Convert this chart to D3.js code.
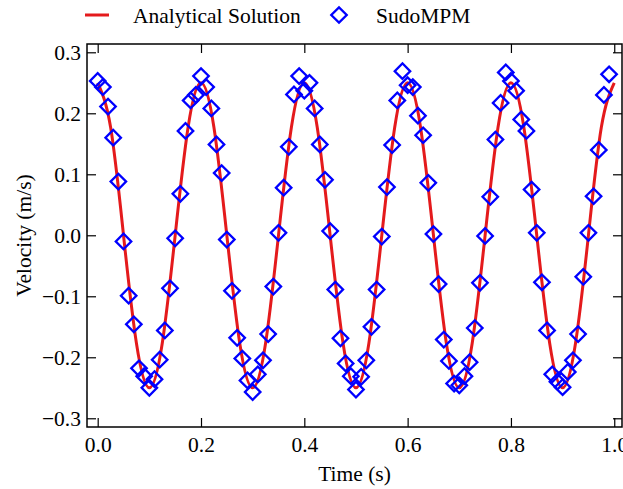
<!DOCTYPE html>
<html>
<head>
<meta charset="utf-8">
<script src="https://cdn.jsdelivr.net/npm/d3@7"></script>
<style>
  body { margin: 0; background: #fff; }
  svg text { font-family: "Liberation Serif", Tinos, "Times New Roman", Times, "DejaVu Serif", serif !important; }
</style>
</head>
<body>
<div id="graph"></div>
<script>
// analytical solution, sampled every 0.025 s
var analyticTime = [0, 0.025, 0.05, 0.075, 0.1, 0.125, 0.15, 0.175, 0.2, 0.225,
    0.25, 0.275, 0.3, 0.325, 0.35, 0.375, 0.4, 0.425, 0.45, 0.475,
    0.5, 0.525, 0.55, 0.575, 0.6, 0.625, 0.65, 0.675, 0.7, 0.725,
    0.75, 0.775, 0.8, 0.825, 0.85, 0.875, 0.9, 0.925, 0.95, 0.975, 1.0];
var analyticVel = [0.25, 0.177, 0, -0.177, -0.25, -0.177, 0, 0.177, 0.25, 0.177,
    0, -0.177, -0.25, -0.177, 0, 0.177, 0.25, 0.177, 0, -0.177,
    -0.25, -0.177, 0, 0.177, 0.25, 0.177, 0, -0.177, -0.25, -0.177,
    0, 0.177, 0.25, 0.177, 0, -0.177, -0.25, -0.177, 0, 0.177, 0.25];

// SudoMPM output, one point every 0.01 s (0 .. 0.99)
var mpmTime = [0, 0.01, 0.02, 0.03, 0.04, 0.05, 0.06, 0.07, 0.08, 0.09,
    0.1, 0.11, 0.12, 0.13, 0.14, 0.15, 0.16, 0.17, 0.18, 0.19,
    0.2, 0.21, 0.22, 0.23, 0.24, 0.25, 0.26, 0.27, 0.28, 0.29,
    0.3, 0.31, 0.32, 0.33, 0.34, 0.35, 0.36, 0.37, 0.38, 0.39,
    0.4, 0.41, 0.42, 0.43, 0.44, 0.45, 0.46, 0.47, 0.48, 0.49,
    0.5, 0.51, 0.52, 0.53, 0.54, 0.55, 0.56, 0.57, 0.58, 0.59,
    0.6, 0.61, 0.62, 0.63, 0.64, 0.65, 0.66, 0.67, 0.68, 0.69,
    0.7, 0.71, 0.72, 0.73, 0.74, 0.75, 0.76, 0.77, 0.78, 0.79,
    0.8, 0.81, 0.82, 0.83, 0.84, 0.85, 0.86, 0.87, 0.88, 0.89,
    0.9, 0.91, 0.92, 0.93, 0.94, 0.95, 0.96, 0.97, 0.98, 0.99];
var mpmVel = [0.253, 0.243, 0.211, 0.160, 0.088, -0.010, -0.099, -0.146, -0.218, -0.231,
    -0.250, -0.236, -0.204, -0.156, -0.087, -0.005, 0.068, 0.171, 0.221, 0.230,
    0.261, 0.243, 0.208, 0.149, 0.102, -0.007, -0.091, -0.168, -0.202, -0.238,
    -0.257, -0.228, -0.205, -0.162, -0.084, 0.004, 0.078, 0.145, 0.231, 0.261,
    0.237, 0.250, 0.208, 0.149, 0.091, 0.007, -0.089, -0.169, -0.210, -0.231,
    -0.253, -0.232, -0.205, -0.150, -0.089, -0.002, 0.079, 0.148, 0.221, 0.269,
    0.246, 0.243, 0.196, 0.164, 0.086, 0.002, -0.080, -0.171, -0.206, -0.243,
    -0.246, -0.231, -0.208, -0.152, -0.078, -0.001, 0.063, 0.157, 0.217, 0.267,
    0.253, 0.237, 0.190, 0.171, 0.075, 0.004, -0.077, -0.156, -0.228, -0.240,
    -0.249, -0.224, -0.205, -0.162, -0.068, 0.004, 0.064, 0.140, 0.230, 0.264];

var xTicks = [0, 0.2, 0.4, 0.6, 0.8, 1.0];
var yTicks = [-0.3, -0.2, -0.1, 0, 0.1, 0.2, 0.3];

var serif = '"Liberation Serif", Tinos, "Times New Roman", Times, "DejaVu Serif", serif';
var fontSize = 21.5;

var width = 623, height = 489,
    margin = {top: 44, right: 1, bottom: 62, left: 87};

var svg = d3.select("#graph").append("svg")
    .attr("width", width)
    .attr("height", height)
    .attr("font-family", serif);

var x = d3.scaleLinear()
    .domain([-0.0207, 1.015])
    .range([margin.left, width - margin.right]);

var y = d3.scaleLinear()
    .domain([-0.3143, 0.3136])
    .range([height - margin.bottom, margin.top]);

var fmt = function(d) { return d3.format(".1f")(d).replace("-", "\u2212"); };

// axes, ticks pointing inward on all four sides
function styleAxis(g) {
    g.attr("font-family", serif);
    g.select(".domain").remove();
    g.selectAll(".tick line").attr("stroke", "#000").attr("stroke-width", 1.2);
    g.selectAll(".tick text").attr("font-size", fontSize).attr("fill", "#000");
}

svg.append("g")
    .attr("transform", "translate(0," + y.range()[0] + ")")
    .call(d3.axisBottom(x).tickValues(xTicks).tickFormat(fmt).tickSizeInner(-9).tickSizeOuter(0).tickPadding(10))
    .call(styleAxis);

svg.append("g")
    .attr("transform", "translate(0," + y.range()[1] + ")")
    .call(d3.axisTop(x).tickValues(xTicks).tickFormat("").tickSizeInner(-9).tickSizeOuter(0))
    .call(styleAxis);

svg.append("g")
    .attr("transform", "translate(" + x.range()[0] + ",0)")
    .call(d3.axisLeft(y).tickValues(yTicks).tickFormat(fmt).tickSizeInner(-9).tickSizeOuter(0).tickPadding(6))
    .call(styleAxis);

svg.append("g")
    .attr("transform", "translate(" + x.range()[1] + ",0)")
    .call(d3.axisRight(y).tickValues(yTicks).tickFormat("").tickSizeInner(-9).tickSizeOuter(0))
    .call(styleAxis);

// analytical line
var line = d3.line()
    .x(function(d, i) { return x(analyticTime[i]); })
    .y(function(d) { return y(d); })
    .curve(d3.curveNatural);

svg.append("path")
    .datum(analyticVel)
    .attr("fill", "none")
    .attr("stroke", "#e41a1c")
    .attr("stroke-width", 3)
    .attr("d", line);

// SudoMPM markers
var diamond = d3.symbol().type(d3.symbolSquare).size(120);

svg.selectAll(".mpm")
    .data(mpmVel)
    .enter().append("path")
    .attr("class", "mpm")
    .attr("d", diamond)
    .attr("transform", function(d, i) {
        return "translate(" + x(mpmTime[i]) + "," + y(d) + ") rotate(45)";
    })
    .attr("fill", "none")
    .attr("stroke", "#0000ff")
    .attr("stroke-width", 2.3);

// frame
svg.append("rect")
    .attr("x", x.range()[0])
    .attr("y", y.range()[1])
    .attr("width", x.range()[1] - x.range()[0])
    .attr("height", y.range()[0] - y.range()[1])
    .attr("fill", "none")
    .attr("stroke", "#000")
    .attr("stroke-width", 1.5);

// axis labels
svg.append("text")
    .attr("x", (x.range()[0] + x.range()[1]) / 2)
    .attr("y", 481)
    .attr("text-anchor", "middle")
    .attr("font-size", fontSize)
    .text("Time (s)");

svg.append("text")
    .attr("transform", "translate(31," + (y.range()[0] + y.range()[1]) / 2 + ") rotate(-90)")
    .attr("text-anchor", "middle")
    .attr("font-size", fontSize)
    .text("Velocity (m/s)");

// legend
var legend = svg.append("g");
legend.append("line")
    .attr("x1", 85).attr("x2", 109)
    .attr("y1", 15).attr("y2", 15)
    .attr("stroke", "#e41a1c")
    .attr("stroke-width", 3);
legend.append("text")
    .attr("x", 133).attr("y", 23)
    .attr("font-size", fontSize)
    .text("Analytical Solution");
legend.append("path")
    .attr("d", diamond)
    .attr("transform", "translate(339,15) rotate(45)")
    .attr("fill", "none")
    .attr("stroke", "#0000ff")
    .attr("stroke-width", 2.3);
legend.append("text")
    .attr("x", 376).attr("y", 23)
    .attr("font-size", fontSize)
    .text("SudoMPM");
</script>
</body>
</html>
